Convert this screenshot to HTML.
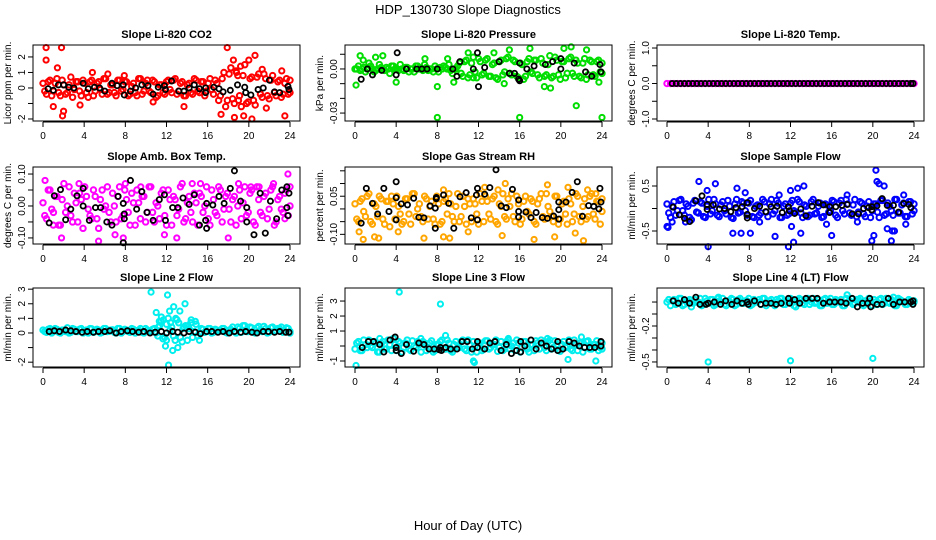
<!DOCTYPE html>
<html><head><meta charset="utf-8">
<style>
html,body{margin:0;padding:0;background:#fff;}
svg{display:block;font-family:"Liberation Sans",Arial,sans-serif;}
</style></head>
<body>
<svg id="chart" width="936" height="540" viewBox="0 0 936 540" xmlns="http://www.w3.org/2000/svg">
<text x="468" y="14" text-anchor="middle" font-size="13">HDP_130730  Slope Diagnostics</text>
<text x="468" y="530" text-anchor="middle" font-size="13">Hour of Day (UTC)</text>
</svg>
<script>
const xTicks = [0,4,8,12,16,20,24];
const titles = ["Slope Li-820 CO2","Slope Li-820 Pressure","Slope Li-820 Temp.","Slope Amb. Box Temp.","Slope Gas Stream RH","Slope Sample Flow","Slope Line 2 Flow","Slope Line 3 Flow","Slope Line 4 (LT) Flow"];
const yLabels = ["Licor ppm per min.","kPa per min.","degrees C per min.","degrees C per min.","percent per min.","ml/min per min.","ml/min per min.","ml/min per min.","ml/min per min."];
const yTicks = [[-2,-1,0,1,2],[-0.03,-0.02,-0.01,0,0.01],[-1,-0.5,0,0.5,1],[-0.1,-0.05,0,0.05,0.1],[-0.1,-0.05,0,0.05,0.1,0.15],[-0.5,0,0.5],[-2,-1,0,1,2,3],[-1,0,1,2,3],[-0.5,-0.4,-0.3,-0.2,-0.1,0]];
const yTickLabels = [["-2","","0","1","2"],["-0.03","","","0.00",""],["-1.0","","0.0","","1.0"],["-0.10","","0.00","","0.10"],["-0.10","","","0.05","",""],["-0.5","","0.5"],["-2","","0","1","2","3"],["-1","","1","2","3"],["-0.5","","","-0.2","",""]];

const co2A=[0.3,-0.4,0.5,-0.2,0.6,-0.5,0.2,-0.3,0.7,-0.1,0.4,-0.5,0.3,-0.6,0.5,-0.2,0.4,-0.4,0.6,-0.3,0.2,-0.5,0.5,-0.1,0.4,-0.4,0.3,-0.5,0.6,-0.2,0.5,-0.3,0.4,-0.5,0.2,-0.4,0.5,-0.3,0.6,-0.2,0.4,-0.5,0.3,-0.4,0.5,-0.3,0.4,-0.2,0.6,-0.4,0.3,-0.5,1.0,-0.8,1.3,-1.0,0.8,-1.2,1.5,-0.9,0.7,-1.1,0.9,-0.6,0.6,-0.7,0.8,-0.5,0.5,-0.4,0.6,-0.3];
const co2B=[-0.2,0.4,-0.5,0.3,-0.3,0.5,-0.4,0.2,-0.6,0.4,-0.2,0.5,-0.3,0.4,-0.5,0.3,-0.1,0.6,-0.4,0.2,-0.3,0.5,-0.2,0.4,-0.5,0.1,-0.3,0.6,-0.4,0.3,-0.2,0.5,-0.6,0.2,-0.3,0.4,-0.1,0.5,-0.4,0.3,-0.5,0.2,-0.3,0.6,-0.2,0.4,-0.5,0.3,-0.1,0.5,-0.8,0.6,-1.2,0.9,-0.7,1.1,-0.5,0.8,-1.0,0.6,-0.8,0.7,-0.4,0.9,-0.5,0.5,-0.3,0.4,-0.6,0.3,-0.4,0.5];
const co2Out=[[0.3,2.6],[0.3,1.8],[1.8,2.6],[1.9,-1.8],[1.0,-1.2],[1.4,1.3],[2.0,-1.5],[3.6,-1.1],[4.8,1.0],[6.3,0.9],[7.9,0.8],[10.7,-0.9],[13.7,-1.2],[17.3,-1.7],[17.9,2.6],[18.5,1.8],[18.6,-1.9],[19.2,1.4],[19.5,-1.8],[20.0,1.8],[20.3,-2.0],[20.6,2.1],[21.3,1.2],[21.7,-1.3],[23.5,-1.8],[23.2,1.1],[19.0,-0.8],[18.8,1.0]];
const co2Black=[[0.5,-0.05],[1,-0.15],[1.5,0.2],[2,0.2],[2.5,0.05],[3,0],[3.9,0.3],[4.4,-0.05],[5,0.05],[5.5,0],[6,-0.2],[6.7,0.3],[7.2,0.15],[7.8,0.2],[7.9,-0.45],[8.5,-0.2],[9,0],[9.6,0.2],[10.2,0.15],[10.7,-0.4],[11.2,0.05],[11.8,0.15],[11.9,-0.1],[12.5,0.45],[13.2,-0.2],[13.7,-0.2],[14.2,0],[14.7,0.2],[15.2,-0.05],[15.8,0],[15.8,-0.3],[16.6,0.05],[17.1,-0.05],[17.5,-0.25],[18.2,-0.15],[18.9,0.2],[19.6,0.05],[19.7,-0.3],[20.2,-0.45],[20.9,-0.1],[21.4,0],[22,0.5],[22.5,-0.25],[23,-0.3],[23.8,0.1],[23.9,-0.1]];

const presA=[0,0.002,0,-0.002,0.004,0,-0.001,0.003,0,0.001,-0.003,0.002,0,0.003,-0.001,0.001,0,-0.002,0.002,0,0.003,-0.001,0,0.002,-0.002,0,0.001,0.003,-0.003,0,0.004,-0.005,0.006,-0.004,0.008,-0.006,0.005,-0.003,0.007,-0.005,0.004,-0.007,0.006,-0.002,0.008,-0.004,0.005,-0.006,0.003,-0.005,0.007,-0.003,0.006,-0.006,0.004,-0.004,0.009,-0.005,0.006,-0.007,0.005,-0.003,0.008,-0.005,0.004,-0.006,0.007,-0.004,0.005,-0.005,0.006,-0.003];
const presB=[0,-0.001,0.001,0,0.002,-0.002,0,0.001,-0.001,0,0.002,0,-0.001,0,0.001,-0.002,0,0.002,0,-0.001,0.001,0,-0.002,0,0.001,0.002,0,-0.001,0,0.002,-0.003,0.005,-0.006,0.004,-0.002,0.007,-0.004,0.006,-0.005,0.003,-0.006,0.005,-0.004,0.007,-0.003,0.006,-0.005,0.004,-0.007,0.005,-0.002,0.006,-0.004,0.007,-0.005,0.003,-0.006,0.008,-0.004,0.005,-0.006,0.007,-0.003,0.006,-0.005,0.004,-0.007,0.006,-0.004,0.005,-0.002,0.004];
const presOut=[[0.1,-0.011],[0.5,0.009],[0.8,0.006],[2,0.008],[4,-0.009],[2.7,0.009],[6.8,0.007],[8,-0.012],[8,-0.033],[9,0.007],[9.6,-0.009],[11,0.011],[11.5,-0.006],[14.5,-0.01],[16,-0.033],[15,0.013],[17,0.014],[19,-0.013],[20.3,0.014],[21,0.015],[21.5,-0.025],[22.5,0.013],[23.7,-0.009],[24,-0.033],[18.4,-0.012],[13.5,0.011]];
const presBlack=[[0.6,-0.007],[1.2,0],[1.7,-0.004],[2.6,-0.001],[4.1,0.011],[4.0,-0.004],[5,0],[6,0],[6.5,0],[7,0],[8,0],[9.5,0],[10.2,0.005],[9.9,-0.005],[11.5,0],[12,-0.012],[11.9,0.011],[12.6,0.001],[14,0.005],[15,-0.003],[15.5,-0.003],[16,0.004],[16,-0.008],[16.7,0],[17.4,0.002],[18.5,0.003],[19.2,0.005],[20,0.007],[20,0],[21.3,0.004],[22.4,-0.002],[23,-0.005],[23.8,0.003],[23.9,-0.002],[15.9,-0.007]];

const tempA=[0,0,0,0,0,0,0,0,0,0,0,0,0,0,0,0,0,0,0,0,0,0,0,0,0,0,0,0,0,0,0,0,0,0,0,0,0,0,0,0,0,0,0,0,0,0,0,0,0,0,0,0,0,0,0,0,0,0,0,0,0,0,0,0,0,0,0,0,0,0,0,0];
const tempBlack=[[0.5,0],[0.9,0],[1.3,0],[1.7,0],[2.1,0],[2.5,0],[2.9,0],[3.3,0],[3.7,0],[4.1,0],[4.5,0],[4.9,0],[5.3,0],[5.7,0],[6.1,0],[6.5,0],[6.9,0],[7.3,0],[7.7,0],[8.1,0],[8.5,0],[8.9,0],[9.3,0],[9.7,0],[10.1,0],[10.5,0],[10.9,0],[11.3,0],[11.7,0],[12.1,0],[12.5,0],[12.9,0],[13.3,0],[13.7,0],[14.1,0],[14.5,0],[14.9,0],[15.3,0],[15.7,0],[16.1,0],[16.5,0],[16.9,0],[17.3,0],[17.7,0],[18.1,0],[18.5,0],[18.9,0],[19.3,0],[19.7,0],[20.1,0],[20.5,0],[20.9,0],[21.3,0],[21.7,0],[22.1,0],[22.5,0],[22.9,0],[23.3,0],[23.7,0],[23.9,0]];

const ambA=[0.01,-0.04,0.05,-0.02,0.03,-0.06,0.07,0.00,-0.03,0.04,-0.05,0.02,0.06,-0.01,-0.04,0.03,-0.07,0.05,0.00,-0.02,0.04,-0.05,0.06,-0.03,0.02,-0.06,0.01,0.05,-0.04,0.03,-0.02,0.06,-0.05,0.00,0.04,-0.03,0.05,-0.06,0.02,-0.01,0.07,-0.04,0.03,-0.05,0.01,0.04,-0.02,0.06,-0.06,0.02,-0.03,0.05,-0.01,0.04,-0.05,0.03,0.00,-0.04,0.06,-0.02,0.05,-0.06,0.02,-0.03,0.04,-0.01,0.06,-0.05,0.03,-0.02,0.05,0.00];
const ambB=[-0.03,0.05,-0.01,0.03,-0.06,0.02,-0.02,0.06,-0.05,0.01,0.04,-0.07,0.03,-0.03,0.05,-0.04,0.02,-0.01,0.06,-0.05,0.00,0.03,-0.04,0.05,-0.02,0.04,-0.06,0.01,0.03,-0.05,0.06,-0.02,0.01,-0.04,0.05,-0.06,0.02,0.03,-0.03,0.06,-0.05,0.01,-0.02,0.04,-0.06,0.03,0.00,-0.04,0.05,-0.02,0.06,-0.05,0.03,-0.01,0.02,-0.06,0.05,0.01,-0.03,0.04,-0.05,0.06,-0.02,0.03,-0.04,0.05,-0.06,0.02,-0.01,0.04,-0.03,0.06];
const ambOut=[[0.2,0.08],[1,-0.06],[1.8,-0.1],[5.4,-0.11],[7,-0.09],[7.8,-0.1],[11.8,-0.09],[13,-0.1],[14.5,0.07],[15.3,0.07],[18,-0.1],[19,0.07],[20.2,0.06],[22.4,0.07],[23.8,0.1],[23.5,-0.04],[3.5,0.07],[9.5,0.06],[21,0.06],[8,0.07]];
const ambBlack=[[0.6,-0.053],[1.1,0.032],[1.7,0.051],[2.2,-0.043],[2.7,-0.01],[3.3,0.032],[3.9,0.055],[3.9,0],[4.5,-0.045],[5.1,-0.005],[5.6,-0.005],[6.2,-0.05],[6.7,-0.06],[7.3,0.03],[7.8,0.008],[7.9,-0.025],[7.9,-0.04],[7.8,-0.115],[8.5,0.08],[9.1,-0.01],[9.6,0.045],[10.1,-0.02],[10.7,-0.045],[11.3,0.02],[11.8,0.035],[11.9,-0.045],[12.6,-0.005],[13.1,-0.005],[13.6,0.025],[14.2,0.005],[14.7,0.035],[15.2,-0.06],[15.8,-0.045],[15.9,-0.07],[15.9,0.008],[16.5,0.003],[17.1,0.03],[17.6,0.008],[18.2,0.055],[18.6,0.11],[19.2,0.015],[19.8,-0.005],[19.8,-0.05],[20.5,-0.09],[21.1,0.04],[21.6,-0.085],[22.1,0.015],[22.7,-0.04],[23.2,0.05],[23.7,0.06],[23.9,0.04],[23.7,-0.005],[23.8,-0.03]];

const rhA=[0.02,-0.05,0.04,-0.03,0.06,-0.06,0.01,0.05,-0.04,0.03,-0.07,0.02,0.05,-0.02,-0.05,0.04,-0.06,0.06,0.00,-0.03,0.05,-0.04,0.03,-0.06,0.02,-0.05,0.04,0.06,-0.03,0.01,-0.05,0.05,-0.06,0.02,0.04,-0.02,0.06,-0.05,0.03,-0.04,0.05,-0.06,0.01,-0.03,0.04,0.06,-0.05,0.02,-0.04,0.05,-0.02,0.03,-0.06,0.04,-0.03,0.06,-0.01,-0.05,0.05,-0.04,0.03,-0.06,0.02,-0.02,0.05,-0.05,0.04,-0.03,0.06,-0.04,0.03,-0.01];
const rhB=[-0.04,0.03,-0.01,0.05,-0.05,0.02,-0.03,0.04,-0.06,0.03,0.05,-0.04,0.01,-0.06,0.04,-0.02,0.06,-0.03,0.02,-0.05,0.04,0.01,-0.04,0.05,-0.06,0.03,-0.02,0.02,-0.05,0.06,-0.03,0.01,0.04,-0.05,0.02,-0.06,0.03,0.05,-0.02,0.04,-0.05,0.02,0.06,-0.04,0.01,-0.03,0.05,-0.06,0.03,-0.01,0.04,-0.05,0.02,0.06,-0.04,0.01,-0.03,0.05,-0.06,0.02,-0.02,0.04,-0.05,0.06,-0.03,0.01,-0.04,0.05,-0.02,0.03,-0.06,0.04];
const rhOut=[[0.4,-0.09],[0.8,-0.12],[1.9,-0.11],[2.3,-0.115],[4.2,-0.09],[6.7,-0.115],[8.6,-0.11],[9.2,-0.115],[8.6,0.075],[11,-0.09],[12.6,0.085],[13.9,0.075],[14.6,0.1],[14.3,-0.105],[17.4,-0.12],[18.7,0.095],[19.4,-0.11],[20.7,0.085],[21.4,-0.095],[22.2,-0.125],[22.6,0.075],[23.4,0.06]];
const rhBlack=[[0.6,-0.056],[1.1,0.081],[1.7,0.022],[2.2,-0.02],[2.8,0.081],[3.3,-0.01],[4.0,0.107],[4,0.044],[4,-0.043],[4.5,0.02],[5.1,0.016],[5.7,0.042],[6.2,-0.033],[6.7,-0.035],[7.3,0.012],[7.8,0.003],[7.9,0.045],[7.9,0.04],[7.8,-0.076],[8.6,0.055],[9.1,0.022],[9.6,-0.076],[10.2,0.048],[10.8,0.064],[11.3,-0.035],[11.8,0.055],[11.9,0.081],[11.9,-0.043],[12.6,0.058],[13.1,0.084],[13.7,0.154],[14.2,0.012],[14.7,0.005],[15.3,0.077],[15.9,0.035],[15.9,-0.01],[15.9,-0.032],[16.6,-0.012],[17.1,-0.034],[17.6,-0.014],[18.2,-0.034],[18.7,-0.037],[19.3,-0.028],[19.8,-0.003],[19.8,0.027],[19.8,-0.04],[20.5,0.027],[21.1,0.065],[21.6,0.107],[22.1,-0.029],[22.7,0.013],[23.2,0.01],[23.7,0],[23.8,0.081],[23.9,0.027]];

const sfA=[0.1,-0.2,0.15,-0.05,0.2,-0.15,0.05,-0.25,0.18,-0.1,0.12,-0.2,0.2,-0.05,0.1,-0.18,0.15,-0.12,0.05,-0.22,0.2,-0.08,0.12,-0.15,0.18,-0.2,0.08,-0.1,0.15,-0.18,0.2,-0.05,0.12,-0.2,0.1,-0.12,0.18,-0.08,0.15,-0.2,0.05,-0.15,0.2,-0.1,0.12,-0.18,0.08,-0.05,0.15,-0.2,0.18,-0.12,0.1,-0.15,0.2,-0.08,0.12,-0.18,0.15,-0.05,0.1,-0.2,0.18,-0.12,0.05,-0.15,0.2,-0.1,0.12,-0.18,0.15,-0.05];
const sfB=[-0.1,0.05,-0.15,0.18,-0.05,0.1,-0.2,0.12,-0.08,0.15,-0.18,0.05,-0.12,0.2,-0.15,0.08,-0.05,0.18,-0.2,0.1,-0.1,0.15,-0.05,0.12,-0.18,0.05,-0.15,0.2,-0.08,0.1,-0.12,0.18,-0.2,0.05,-0.15,0.12,-0.05,0.2,-0.1,0.08,-0.18,0.15,-0.12,0.05,-0.2,0.1,-0.08,0.18,-0.15,0.12,-0.05,0.2,-0.1,0.08,-0.18,0.15,-0.12,0.05,-0.2,0.1,-0.08,0.18,-0.15,0.12,-0.05,0.2,-0.1,0.08,-0.18,0.15,-0.12,0.1];
const sfOut=[[0,-0.4],[0.1,-0.42],[0.5,-0.3],[1.8,-0.3],[3.1,0.6],[3.9,0.4],[4,-0.85],[4.7,0.55],[6.4,-0.55],[6.8,0.45],[7.2,-0.55],[7.6,0.35],[8.1,-0.55],[10.5,-0.62],[10.9,0.3],[11.8,-0.85],[12.0,0.4],[12.3,-0.75],[12.7,0.45],[13.0,-0.55],[13.3,0.5],[12.1,-0.4],[16.0,-0.6],[19.9,-0.72],[20.1,-0.6],[20.3,0.85],[20.4,0.6],[20.6,0.55],[21.1,0.5],[21.4,-0.45],[21.8,-0.72],[21.9,-0.5],[22.1,-0.5],[23,0.3],[23.2,-0.35],[17.5,0.3],[18.5,-0.3],[9,-0.3],[15.5,-0.35]];
const sfBlack=[[0.6,0.03],[1.2,-0.14],[1.7,-0.22],[2.2,-0.29],[2.8,0.17],[3.4,0.28],[3.9,0.09],[3.9,-0.02],[4.5,0.08],[5.1,-0.01],[5.6,0],[6.2,-0.07],[6.7,0.02],[7.3,0.04],[7.8,0.13],[7.8,-0.13],[7.8,-0.21],[8.5,0],[9,0.05],[9.6,-0.07],[10.1,0.04],[10.7,0.05],[11.2,-0.09],[11.8,0.04],[11.9,-0.05],[12.4,-0.11],[13,-0.01],[13.5,-0.16],[14.1,0.05],[14.7,0.13],[15.2,0.08],[15.8,0.04],[15.8,-0.09],[16.4,0.04],[17,0.07],[17.5,0.09],[18,-0.12],[18.6,-0.12],[19.1,0],[19.6,0.02],[19.9,0.04],[19.9,-0.03],[20.4,0.06],[20.9,0.22],[21.4,0.07],[22,0.07],[22.5,-0.08],[23,0.11],[23.5,0.09],[23.7,0.02]];

const l2A=[0.2,0.05,0.3,0.1,0.25,0.0,0.2,0.35,0.05,0.25,0.1,0.3,0.15,0.0,0.28,0.1,0.2,0.05,0.3,0.12,0.22,0.0,0.3,0.1,0.2,0.05,0.25,0.15,0.3,0.0,0.2,0.1,0.3,-0.2,0.8,-0.3,1.0,0.4,-0.5,0.7,-0.6,0.5,0.3,-0.3,0.6,0.0,0.25,0.1,0.3,0.05,0.2,0.15,0.3,0.0,0.25,0.1,0.4,0.05,0.5,0.1,0.35,0.0,0.45,0.1,0.3,0.05,0.4,0.15,0.3,0.05,0.35,0.1];
const l2B=[0.1,0.25,0.0,0.3,0.05,0.2,0.1,0.0,0.3,0.1,0.25,0.0,0.2,0.3,0.05,0.25,0.0,0.3,0.1,0.2,0.05,0.3,0.0,0.25,0.1,0.3,0.0,0.2,0.05,0.3,0.1,0.25,0.0,0.5,-0.4,0.6,0.2,-0.2,0.9,-0.3,0.4,-0.5,0.7,0.1,-0.2,0.3,0.05,0.3,0.0,0.25,0.1,0.3,0.05,0.2,0.4,0.0,0.3,0.5,0.1,0.4,0.05,0.35,0.2,0.45,0.0,0.35,0.1,0.3,0.4,0.1,0.3,0.0];
const l2Out=[[10.5,2.8],[11.0,1.4],[11.3,0.8],[11.5,1.1],[11.7,0.9],[11.9,-0.9],[12.0,-0.5],[12.1,2.6],[12.3,1.5],[12.4,0.7],[12.7,1.8],[12.9,1.0],[13.1,-1.0],[13.3,1.5],[12.6,-1.2],[13.8,2.0],[14.1,0.5],[14.4,0.9],[14.8,0.8],[15.2,-0.5],[12.2,-2.2],[11.2,0.4],[13.6,0.3]];
const l2BlackHours=[0.6,1.1,1.6,2.2,2.7,3.2,3.8,4.3,4.9,5.4,6.0,6.5,7.1,7.6,8.2,8.7,9.3,9.8,10.4,10.9,11.5,12.0,12.6,13.1,13.7,14.2,14.8,15.3,15.9,16.4,17.0,17.5,18.1,18.6,19.2,19.7,20.3,20.8,21.4,21.9,22.5,23.0,23.6,23.9];
const l2BlackVals=[0.1,0.15,0.1,0.2,0.15,0.1,0.05,0.1,0.05,0.1,0.1,0.15,0.0,0.1,0.15,0.1,0.05,0.1,0.0,0.05,0.1,0.0,0.1,0.05,0.0,0.1,0.05,-0.05,0.1,0.1,0.05,0.1,0.0,0.1,0.05,0.1,0.05,0.0,0.1,0.1,0.05,0.1,0.05,0.05];

const l3A=[-0.2,0.3,-0.3,0.1,0.4,-0.1,0.2,-0.4,0.3,-0.2,0.1,0.5,-0.3,0.2,-0.1,0.4,-0.3,0.0,0.3,-0.4,0.2,-0.1,0.35,-0.3,0.1,0.4,-0.2,0.2,-0.4,0.3,-0.1,0.4,-0.3,0.1,0.3,-0.4,0.2,-0.2,0.35,-0.1,0.1,-0.35,0.3,-0.2,0.4,0.0,-0.3,0.2,-0.1,0.3,-0.4,0.1,0.35,-0.2,0.2,-0.3,0.4,-0.1,0.1,-0.35,0.3,0.0,-0.2,0.4,-0.3,0.2,-0.1,0.35,-0.2,0.1,-0.3,0.2];
const l3B=[0.2,-0.3,0.4,-0.1,0.0,0.3,-0.4,0.2,-0.2,0.4,-0.3,0.1,0.3,-0.4,0.2,-0.2,0.35,-0.1,0.1,0.3,-0.3,0.2,-0.4,0.1,0.3,-0.2,0.4,-0.3,0.1,-0.1,0.3,-0.2,0.4,-0.4,0.0,0.2,-0.3,0.35,-0.2,0.1,0.4,-0.1,-0.3,0.3,-0.2,0.2,0.4,-0.4,0.3,-0.2,0.1,-0.3,0.2,0.4,-0.1,0.3,-0.2,0.35,-0.3,0.1,-0.1,0.4,-0.3,0.1,0.2,-0.4,0.3,-0.2,0.1,0.35,-0.1,-0.2];
const l3Out=[[0.1,-1.3],[4.3,3.6],[8.3,2.8],[8.8,0.7],[11.5,-1.0],[11.6,-1.1],[14.9,0.5],[20.7,-0.9],[23.4,-1.0],[2.4,0.5],[6.4,0.5],[18.7,0.5],[22.0,0.6]];
const l3Black=[[0.7,-0.1],[1.3,0.3],[1.8,0.3],[2.4,0.1],[2.8,-0.4],[3.4,0.4],[3.9,0.6],[4.0,-0.1],[4.0,-0.3],[4.5,-0.5],[5.0,0.1],[5.7,-0.35],[6.2,0.2],[6.7,0.1],[7.2,-0.2],[7.7,-0.2],[8.2,-0.25],[8.3,-0.1],[8.4,-0.3],[8.8,-0.1],[9.3,-0.2],[9.9,-0.2],[10.4,0.3],[10.9,0.3],[11.4,-0.2],[11.9,0.3],[11.9,-0.1],[12.6,-0.2],[13.1,0.2],[13.6,0.3],[14.2,-0.3],[14.7,0.1],[15.2,-0.5],[15.7,-0.3],[16.1,-0.4],[16.1,0.3],[16.5,0.0],[17.1,0.4],[17.6,-0.2],[18.1,0.2],[18.6,0.0],[19.1,-0.2],[19.7,0.3],[19.7,-0.3],[20.2,-0.2],[20.8,0.3],[21.3,0.2],[21.8,0.0],[22.3,-0.1],[22.8,-0.1],[23.3,-0.1],[23.9,0.3],[23.9,0.0]];

const l4A=[0.0,-0.03,0.02,-0.01,0.03,-0.02,0.01,-0.04,0.02,0.0,-0.03,0.03,-0.01,0.02,-0.02,0.01,0.03,-0.03,0.0,0.02,-0.02,0.03,-0.01,0.01,-0.03,0.02,0.0,-0.02,0.03,-0.01,0.02,-0.03,0.01,0.03,-0.02,0.0,0.02,-0.04,0.03,-0.01,0.01,-0.02,0.03,0.0,-0.03,0.02,-0.01,0.03,-0.02,0.01,0.02,-0.03,0.0,0.03,-0.01,0.02,-0.02,0.01,0.03,-0.03,0.0,0.02,-0.02,0.03,-0.01,0.01,-0.03,0.02,0.0,-0.02,0.01,0.0];
const l4B=[0.02,0.01,-0.02,0.03,-0.03,0.01,0.02,-0.01,0.0,0.03,-0.02,0.01,0.02,-0.03,0.03,0.0,-0.02,0.01,0.03,-0.03,0.02,-0.01,0.01,0.03,-0.02,0.0,0.02,0.03,-0.03,0.01,-0.01,0.02,0.03,-0.02,0.0,0.03,-0.03,0.01,0.02,-0.02,0.03,0.0,-0.01,0.02,-0.03,0.03,0.01,-0.02,0.02,0.0,-0.03,0.03,0.01,-0.02,0.02,0.03,-0.03,0.0,0.01,0.02,-0.02,0.03,-0.01,0.0,0.02,-0.03,0.03,0.01,-0.02,0.02,0.0,0.01];
const l4Out=[[4,-0.5],[12,-0.49],[20,-0.47],[17.5,0.06],[22,0.04],[5,0.04]];
const l4Black=[[0.6,0.01],[1.1,-0.01],[1.7,0.02],[2.2,-0.01],[2.8,0.04],[3.2,-0.02],[3.8,-0.02],[4.0,-0.01],[4.6,0.0],[5.2,-0.02],[5.7,0.01],[6.3,-0.02],[6.8,0.01],[7.3,-0.01],[7.8,0.0],[7.9,-0.02],[8.5,0.01],[9.1,-0.02],[9.6,-0.01],[10.1,-0.01],[10.6,-0.02],[11.1,-0.01],[11.8,0.03],[11.9,-0.01],[12.4,0.02],[12.9,-0.01],[13.5,0.03],[14.1,0.03],[14.6,0.03],[15.2,-0.01],[15.8,0.0],[16.3,0.0],[16.9,0.0],[17.4,-0.01],[18.0,0.03],[18.5,-0.04],[19.0,-0.01],[19.5,-0.01],[19.7,0.03],[19.8,-0.04],[20.4,-0.02],[20.9,-0.02],[21.5,0.03],[22.0,-0.02],[22.6,0.0],[23.1,0.0],[23.7,0.0],[23.9,-0.02],[23.9,0.01]];

// layout (not data)
const colX=[33,345,657], rowTop=[45,167,288], rowBot=[121,244,367];
const yDomain=[[-2.13,2.77],[-0.0354,0.0163],[-1.056,1.085],[-0.119,0.122],[-0.138,0.165],[-0.789,0.922],[-2.33,3.08],[-1.4,3.87],[-0.542,0.117]];
const colors=["#ff0000","#00dd00","#ff00ff","#ff00ff","#ffa500","#0000ff","#00eeee","#00eeee","#00eeee"];
const dense=[[co2A,co2B],[presA,presB],[tempA],[ambA,ambB],[rhA,rhB],[sfA,sfB],[l2A,l2B],[l3A,l3B],[l4A,l4B]];
const outs=[co2Out,presOut,[],ambOut,rhOut,sfOut,l2Out,l3Out,l4Out];
const blacks=[co2Black,presBlack,tempBlack,ambBlack,rhBlack,sfBlack,l2BlackHours.map((h,i)=>[h,l2BlackVals[i]]),l3Black,l4Black];

const NS="http://www.w3.org/2000/svg";
const svg=document.getElementById('chart');
function mk(tag,attrs,parent){const e=document.createElementNS(NS,tag);for(const k in attrs)e.setAttribute(k,attrs[k]);(parent||svg).appendChild(e);return e;}

for(let p=0;p<9;p++){
  const c=p%3,r=Math.floor(p/3);
  const bx=colX[c],by=rowTop[r],bw=267,bh=rowBot[r]-rowTop[r];
  const x0=bx+10,x1=bx+257;
  const xs=h=>x0+(h/24)*(x1-x0);
  const [ymin,ymax]=yDomain[p];
  const ys=v=>by+(ymax-v)/(ymax-ymin)*bh;
  const g=mk('g',{});
  
  
  const t=mk('text',{x:bx+bw/2,y:by-7,'text-anchor':'middle','font-size':'11','font-weight':'bold'},g);
  t.textContent=titles[p];
  
  
  const yl=mk('text',{x:0,y:0,'text-anchor':'middle','font-size':'10',transform:`translate(${bx-22},${by+bh/2}) rotate(-90)`},g);
  yl.textContent=yLabels[p];
  
  
  const ptsG=mk('g',{fill:'none','stroke-width':'2'},g);
  
  
  dense[p].forEach((arr,k)=>{
    arr.forEach((v,i)=>{
      const h=i*24/(arr.length-1)+(k?0.17:0);
      const ci=mk('circle',{cx:xs(Math.min(h,24)),cy:ys(v),r:2.7,stroke:colors[p]},ptsG);
      
      
    });
  });
  outs[p].forEach(([h,v])=>{
    const ci=mk('circle',{cx:xs(h),cy:ys(v),r:2.6,stroke:colors[p]},ptsG);
    
    
  });
  blacks[p].forEach(([h,v])=>{
    const ci=mk('circle',{cx:xs(h),cy:ys(v),r:2.6,stroke:'#000','stroke-width':'1.8'},ptsG);
    
    
  });
  const box=mk('rect',{x:bx,y:by,width:bw,height:bh,fill:'none',stroke:'#000','stroke-width':'1'},g);
  
  
  mk('line',{x1:xs(0),x2:xs(24),y1:rowBot[r]+1,y2:rowBot[r]+1,stroke:'#000'},g);
  xTicks.forEach(tk=>{
    mk('line',{x1:xs(tk),x2:xs(tk),y1:rowBot[r]+1,y2:rowBot[r]+6,stroke:'#000'},g);
    const tl=mk('text',{x:xs(tk),y:rowBot[r]+18,'text-anchor':'middle','font-size':'10'},g);
    tl.textContent=tk;
    
    
  });
  yTicks[p].forEach((tk,i)=>{
    const y=ys(tk);
    mk('line',{x1:bx-5,x2:bx,y1:y,y2:y,stroke:'#000'},g);
    if(yTickLabels[p][i]){
      const tl=mk('text',{x:0,y:0,'text-anchor':'middle','font-size':'10',transform:`translate(${bx-8},${y}) rotate(-90)`},g);
      tl.textContent=yTickLabels[p][i];
      
      
    }
  });
}
</script>
</body></html>
